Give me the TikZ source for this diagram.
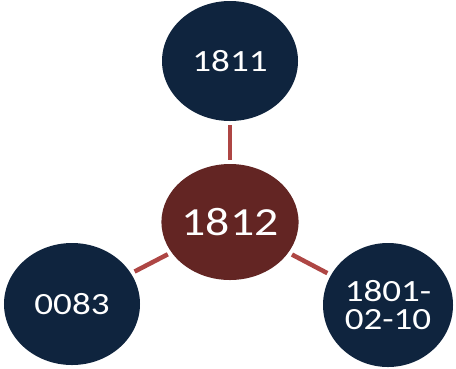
\documentclass[tikz,border=0pt]{standalone}
\usepackage{fontspec}
\setmainfont[FakeStretch=1.2]{Carlito}
\usetikzlibrary{shapes.geometric}
\definecolor{navy}{HTML}{0F243E}
\definecolor{maroon}{HTML}{632523}
\definecolor{spoke}{HTML}{AE4644}
\tikzset{
  outer/.style={ellipse, fill=navy, text=white, inner sep=0pt,
    font=\fontsize{31}{28}\selectfont, align=center},
  hub/.style={ellipse, fill=maroon, text=white, inner sep=0pt,
    font=\fontsize{40}{40}\selectfont},
  link/.style={draw=spoke, line width=4.5bp, shorten <=4bp, shorten >=4bp}
}
\begin{document}
\begin{tikzpicture}[x=1bp, y=-1bp]
  \useasboundingbox (0,0) rectangle (456,368);
  % outer circles
  \node[outer, minimum width=136bp, minimum height=120bp] (top) at (230,61) {1811};
  \node[outer, minimum width=136bp, minimum height=122bp] (left) at (72,304) {0083};
  \node[outer, minimum width=130bp, minimum height=124bp] (right) at (388,305) {1801-\\02-10};
  % central circle
  \node[hub, minimum width=135bp, minimum height=116bp] (hub) at (230,222) {1812};
  % spokes
  \draw[link] (top) -- (hub);
  \draw[link] (left) -- (hub);
  \draw[link] (right) -- (hub);
\end{tikzpicture}
\end{document}
